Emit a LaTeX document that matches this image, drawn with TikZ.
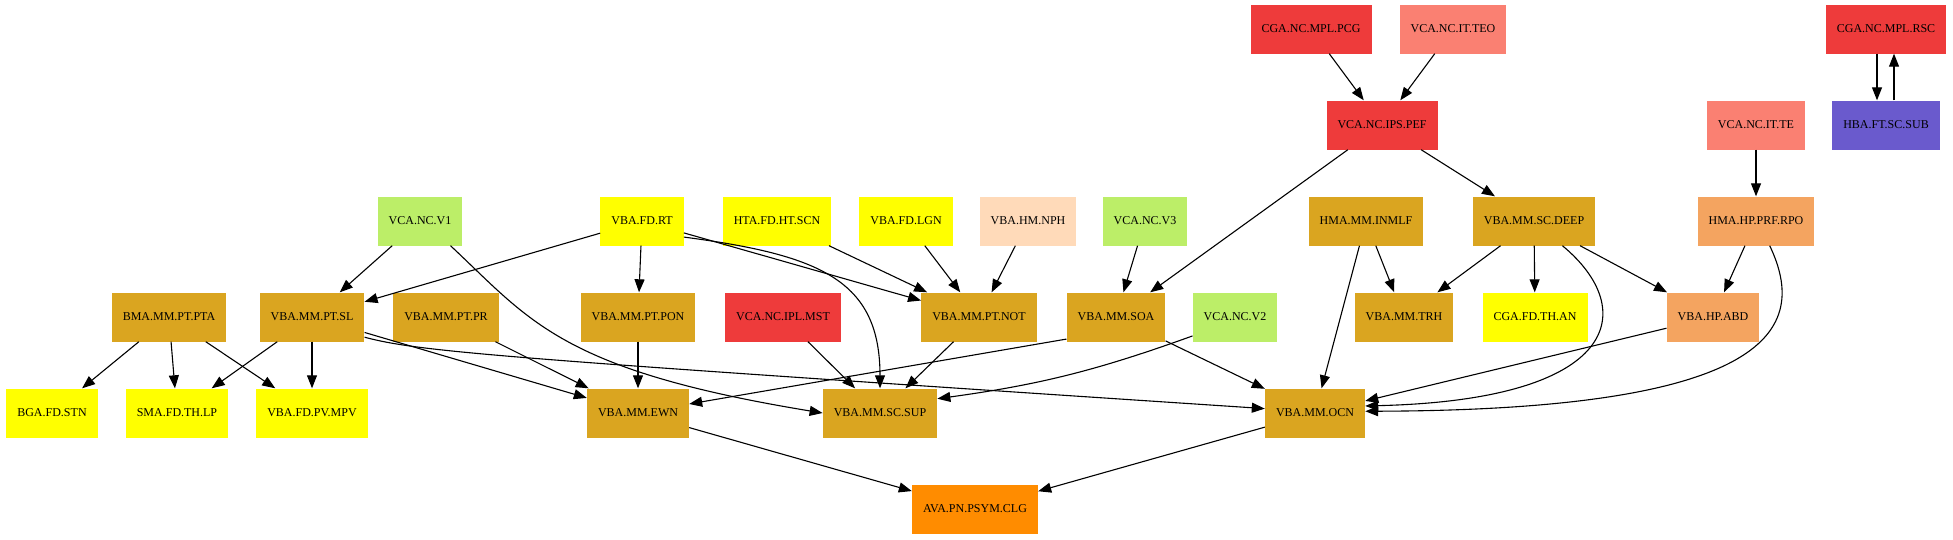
\documentclass[tikz,border=0pt]{standalone}
\usepackage{fontspec}
\setmainfont{Liberation Serif}
\usepackage{tikz}
\usetikzlibrary{arrows.meta}

\definecolor{gold}{HTML}{DAA520}
\definecolor{yel}{HTML}{FFFF00}
\definecolor{brick}{HTML}{EE3B3B}
\definecolor{salm}{HTML}{FA8072}
\definecolor{sandy}{HTML}{F4A460}
\definecolor{peach}{HTML}{FFDAB9}
\definecolor{vgreen}{HTML}{BCEE68}
\definecolor{slate}{HTML}{6A5ACD}
\definecolor{dorange}{HTML}{FF8C00}

\begin{document}
\begin{tikzpicture}[x=1pt, y=-1pt,
    box/.style={rectangle, minimum height=49pt, inner xsep=11pt, inner ysep=0pt, font=\fontsize{12}{14}\selectfont},
    link/.style={-{Triangle[length=13pt,width=10pt]}, line width=1.1pt}
  ]
  \useasboundingbox (0,0) rectangle (1953,539);
  \node[box, fill=brick] (pcg) at (1311,29) {CGA.NC.MPL.PCG};
  \node[box, fill=salm] (teo) at (1453,29) {VCA.NC.IT.TEO};
  \node[box, fill=brick] (rsc) at (1886,29) {CGA.NC.MPL.RSC};

  \node[box, fill=brick] (pef) at (1382,125) {VCA.NC.IPS.PEF};
  \node[box, fill=salm] (te) at (1756,125) {VCA.NC.IT.TE};
  \node[box, fill=slate] (sub) at (1886,125) {HBA.FT.SC.SUB};

  \node[box, fill=vgreen] (vone) at (420,221) {VCA.NC.V1};
  \node[box, fill=yel] (rt) at (642,221) {VBA.FD.RT};
  \node[box, fill=yel] (scn) at (777,221) {HTA.FD.HT.SCN};
  \node[box, fill=yel] (lgn) at (906,221) {VBA.FD.LGN};
  \node[box, fill=peach] (nph) at (1028,221) {VBA.HM.NPH};
  \node[box, fill=vgreen] (vthree) at (1145,221) {VCA.NC.V3};
  \node[box, fill=gold] (inmlf) at (1366,221) {HMA.MM.INMLF};
  \node[box, fill=gold] (deep) at (1534,221) {VBA.MM.SC.DEEP};
  \node[box, fill=sandy] (rpo) at (1756,221) {HMA.HP.PRF.RPO};

  \node[box, fill=gold] (pta) at (169,317) {BMA.MM.PT.PTA};
  \node[box, fill=gold] (sl) at (312,317) {VBA.MM.PT.SL};
  \node[box, fill=gold] (pr) at (446,317) {VBA.MM.PT.PR};
  \node[box, fill=gold] (pon) at (638,317) {VBA.MM.PT.PON};
  \node[box, fill=brick] (mst) at (783,317) {VCA.NC.IPL.MST};
  \node[box, fill=gold] (ptnot) at (979,317) {VBA.MM.PT.NOT};
  \node[box, fill=gold] (soa) at (1116,317) {VBA.MM.SOA};
  \node[box, fill=vgreen] (vtwo) at (1235,317) {VCA.NC.V2};
  \node[box, fill=gold] (trh) at (1404,317) {VBA.MM.TRH};
  \node[box, fill=yel] (an) at (1535,317) {CGA.FD.TH.AN};
  \node[box, fill=sandy] (abd) at (1713,317) {VBA.HP.ABD};

  \node[box, fill=yel] (stn) at (52,413) {BGA.FD.STN};
  \node[box, fill=yel] (lp) at (177,413) {SMA.FD.TH.LP};
  \node[box, fill=yel] (mpv) at (312,413) {VBA.FD.PV.MPV};
  \node[box, fill=gold] (ewn) at (638,413) {VBA.MM.EWN};
  \node[box, fill=gold] (sup) at (880,413) {VBA.MM.SC.SUP};
  \node[box, fill=gold] (ocn) at (1315,413) {VBA.MM.OCN};

  \node[box, fill=dorange] (clg) at (975,509) {AVA.PN.PSYM.CLG};

  \draw[link] (pcg) -- (pef);
  \draw[link] (teo) -- (pef);
  \draw[link] ([xshift=-9pt]rsc.south) -- ([xshift=-9pt]sub.north);
  \draw[link] ([xshift=8pt]sub.north) -- ([xshift=8pt]rsc.south);
  \draw[link] (pef) -- (soa);
  \draw[link] (pef) -- (deep);
  \draw[link] (te) -- (rpo);

  \draw[link] (vone) -- (sl);
  \draw[link] (vone.-39) .. controls (530,320) and (560,370) .. (sup.west);
  \draw[link] (rt) -- (sl);
  \draw[link] (rt) -- (pon);
  \draw[link] (rt) -- (ptnot);
  \draw[link] (rt.-21) .. controls (820,255) and (880,280) .. (sup.north);
  \draw[link] (scn) -- (ptnot);
  \draw[link] (lgn) -- (ptnot);
  \draw[link] (nph) -- (ptnot);
  \draw[link] (vthree) -- (soa);
  \draw[link] (inmlf) -- (trh);
  \draw[link] (inmlf) -- (ocn);
  \draw[link] (deep) -- (trh);
  \draw[link] (deep) -- (an);
  \draw[link] (deep) -- (abd);
  \draw[link] (deep.-41) .. controls (1640,310) and (1620,400) .. (ocn.8);
  \draw[link] (rpo) -- (abd);
  \draw[link] (rpo.-61) .. controls (1810,330) and (1770,410) .. (ocn.2);

  \draw[link] (pta) -- (stn);
  \draw[link] (pta) -- (lp);
  \draw[link] (pta) -- (mpv);
  \draw[link] (sl) -- (lp);
  \draw[link] (sl) -- (mpv);
  \draw[link] (sl) -- (ewn);
  \draw[link] (sl.-21) .. controls (420,352) and (500,358) .. (ocn.175);
  \draw[link] (pr) -- (ewn);
  \draw[link] (pon) -- (ewn);
  \draw[link] (mst) -- (sup);
  \draw[link] (ptnot) -- (sup);
  \draw[link] (soa.-156) -- (ewn.10);
  \draw[link] (soa) -- (ocn);
  \draw[link] (vtwo.-156) to[bend left=6] (sup.14);
  \draw[link] (abd) -- (ocn);

  \draw[link] (ewn) -- (clg);
  \draw[link] (ocn) -- (clg);
\end{tikzpicture}
\end{document}
